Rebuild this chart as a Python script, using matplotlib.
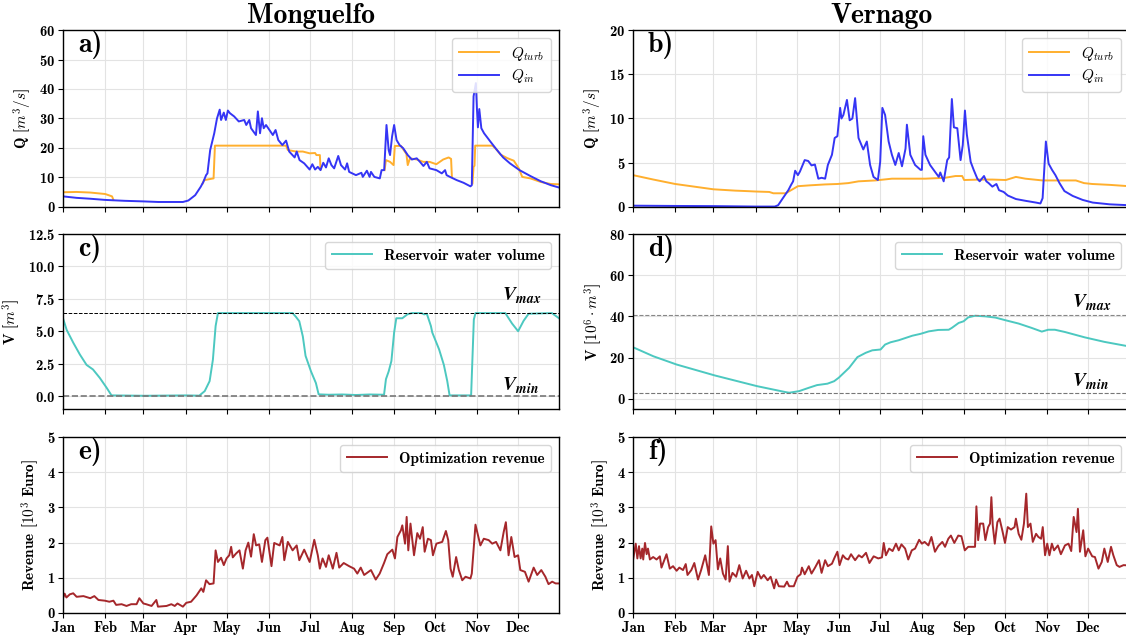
import numpy as np
import matplotlib
matplotlib.use("Agg")
import matplotlib.pyplot as plt

plt.rcParams['font.family'] = 'serif'
plt.rcParams['font.serif'] = ['cmb10', 'DejaVu Serif']
plt.rcParams['mathtext.fontset'] = 'cm'
plt.rcParams['axes.unicode_minus'] = False
plt.rcParams['axes.formatter.use_mathtext'] = True

# ---------------- data (day of year, value) ----------------
months = ['Jan', 'Feb', 'Mar', 'Apr', 'May', 'Jun', 'Jul', 'Aug', 'Sep', 'Oct', 'Nov', 'Dec']
month_start_day = [0, 31, 59, 90, 120, 151, 181, 212, 243, 273, 304, 334]

# Monguelfo inflow
mon_qin = [(0,3.6),(10,3.1),(20,2.8),(31,2.4),(45,2.1),(59,1.9),(70,1.7),(80,1.7),(88,1.7),(92,2.2),(97,4.0),(101,6.8),(103,8.5),(105,10.8),(106,11.4),(108,19.3),(111,25),(113,30),(115,33),(116,29.5),(118,32),(119.5,29.5),(121,32.7),(122.5,31.8),(125.6,30.7),(129,29),(133,29.5),(134.5,27.8),(136.7,29.5),(138,26.7),(141.6,24.4),(143,32.4),(144.6,25),(146,30.1),(147.3,26.7),(149,27.8),(151.5,26.1),(154,24.4),(156,26.1),(158,22.7),(161,21),(163.7,22.5),(166,18.8),(170,16.8),(171.5,18.8),(173.6,15.9),(177,14.8),(181,12.7),(183,14.5),(185,12.7),(187,13.6),(189,12.5),(191,15),(193,13.4),(195,16.5),(197,14.2),(199,13.1),(202,17.3),(204,14.2),(207,12.7),(208.5,14.8),(210,11.9),(215,10.8),(219,11.6),(220,10.2),(223,12.3),(225,10.2),(226,11.9),(228.5,10.2),(232.5,9.7),(233.8,12.5),(235.7,12.5),(237.4,27.8),(239,19.3),(240,17.6),(241.5,23.9),(243,27.8),(244.8,22.7),(247,21),(249.7,19.9),(253,17.6),(256,16.1),(259.6,16.5),(262,15.3),(264.5,13.9),(267,15.3),(269,13.1),(274,12.5),(278,11.4),(280.4,12.5),(281.5,10.8),(284,10.2),(289,9.1),(294,8.2),(299,7),(300,7.4),(301.3,37.5),(303,42),(303.8,33),(304.5,27),(305.5,33.2),(307,26.7),(309,25),(313.6,22.2),(318.5,19.3),(323,16.8),(328,14.8),(335,12.5),(343,10.5),(350.5,8.75),(358,7.4),(364,6.6)]

# Monguelfo turbined flow (None = hidden under inflow, identical to it)
mon_qturb = [(0,5.0),(10,5.1),(20,4.9),(31,4.4),(36,3.6),(37,2.4),None,
             (102.5,8.0),(103.5,9.1),(110.5,9.7),(111.5,20.8),(161,20.8),(163.7,20.8),(165,19.3),(171,18.8),(176,18.8),(181,18.2),(185,18.3),(186,17.6),(188.5,17.6),(189,12.8),None,
             (236,12.5),(237,15.9),(240,15.3),(242.6,14.2),(243.5,20.7),(248,20.7),(252,18),(253,14.2),(254.6,16.5),(259.6,16.1),(264.5,15.3),(269,15.3),(274,14.5),(279,16.1),(283,16.8),(284.8,16.3),(285.4,10.2),None,
             (300.5,8),(301.3,13.6),(302,14),(302.5,20.8),(315.2,20.8),(318.5,19.3),(321,17.8),(325.9,16.6),(330.8,15.7),(334.5,13.1),(337,10.2),(343,9.7),(350.5,8.5),(358,7.8),(364,7.7)]

# Vernago inflow
ver_qin = [(0,0.15),(30,0.12),(60,0.1),(90,0.05),(104,0.05),(106.5,0.2),(110,1.0),(114,1.9),(116,2.5),(117.5,2.9),(119,4.1),(121,3.6),(122.5,4.0),(126,5.3),(128.6,5.2),(131,4.7),(133.5,4.8),(136,3.2),(138.4,3.3),(141,3.2),(143,4.75),(146,5.9),(148,7.8),(150,8.0),(152,11.2),(153,10.0),(154.4,10.4),(157,12.1),(159,9.8),(161,10.0),(163,12.3),(165.5,7.8),(169,6.5),(171.6,7.4),(174,4.75),(176.5,3.4),(179.7,3.05),(181.4,5.1),(183,11.2),(185,10.4),(187.6,7.4),(190,5.9),(192.5,4.75),(195,6.1),(197.4,4.6),(200,6.6),(201,9.3),(203.5,5.9),(207,4.75),(211,4.2),(212,4.2),(213,8.0),(214.6,5.9),(218,4.75),(222,3.9),(224.4,3.4),(225.5,3.9),(228,2.9),(230.6,5.3),(232,5.6),(233,8.9),(234,12.2),(235.5,9.0),(238,8.9),(240.4,5.3),(242,7.0),(243.6,10.9),(245,8.2),(247.8,5.1),(250,4.2),(252.7,3.2),(254.4,2.9),(257.6,3.5),(259.3,2.9),(261,2.7),(263.7,2.3),(266.7,2.6),(268.6,1.9),(272,1.7),(275,1.3),(281,0.9),(288,0.7),(295.7,0.5),(299,0.4),(300.6,1.0),(303,7.4),(305,4.9),(307.5,4.2),(310,3.6),(313,2.7),(316.6,1.8),(322.7,1.25),(330,0.8),(337.4,0.5),(350,0.3),(364,0.2)]

ver_qturb = [(0,3.6),(15,3.1),(31,2.6),(45,2.3),(59,2.0),(75,1.85),(83,1.8),(90,1.75),(100,1.7),(103,1.55),(112,1.55),(116,1.9),(121,2.35),(130,2.45),(141,2.55),(150,2.6),(158,2.7),(165.5,2.9),(177.7,3.0),(190,3.2),(200,3.2),(214.6,3.2),(229,3.3),(236.7,3.5),(241.6,3.5),(243,3.05),(255,3.1),(263.7,3.1),(273.6,3.05),(281,3.4),(288,3.2),(300.6,3.0),(315,3.0),(325,3.0),(331,2.7),(337,2.6),(350,2.5),(364,2.35)]

# Reservoir volumes
mon_vol = [(0,6.0),(2.7,5.1),(7.6,4.1),(12.4,3.2),(17.3,2.4),(22,2.05),(27,1.4),(32,0.64),(35.6,0.05),(60,0.02),(90,0.05),(100,0.03),(104,0.38),(107.6,1.15),(110,2.8),(112,5.4),(113.7,6.4),(168.5,6.4),(171,6.1),(173.4,5.77),(176,4.6),(178,3.1),(182,1.9),(185.6,1.0),(187.6,0.13),(195,0.1),(205,0.12),(215,0.08),(225,0.12),(235.6,0.1),(237,1.3),(239,1.9),(241,2.7),(243,4.9),(244.6,6.0),(249,6.0),(252.7,6.3),(256,6.4),(263,6.4),(265,6.3),(267,6.35),(270,5.4),(271,4.9),(276,3.6),(279.5,2.4),(282,1.15),(283.7,0.05),(299.5,0.05),(301.5,5.9),(302.7,6.4),(324.6,6.4),(329.5,5.6),(334,5.0),(338,5.8),(341.7,6.35),(358.8,6.4),(364,6.0)]
mon_vmax, mon_vmin = 6.4, 0.0

ver_vol = [(0,25),(15,20.6),(32,16.6),(60,11.3),(91,6.1),(112,3.2),(114.7,2.9),(122,3.7),(129,5.3),(135,6.6),(142.7,7.3),(147.6,8.5),(151,10.2),(158.6,15),(164.7,20.2),(170.8,22.3),(175.6,23.5),(181.7,23.9),(185,26.3),(189,27.4),(195,28.4),(200,29.5),(205,30.6),(211,31.5),(217,32.7),(224,33.4),(231.7,33.5),(234,34.4),(239,36.8),(242.6,37.6),(246,39.5),(251,40.3),(258.5,40),(266,39.4),(274,38),(283,36.5),(292.5,34.4),(300,32.6),(304.7,33.5),(309.6,33.5),(317,32.4),(331.5,29.8),(346,27.6),(364,25.4)]
ver_vmax, ver_vmin = 40.5, 3.0

# Revenues
mon_rev = [(0,0.42),(1.2,0.55),(2.5,0.44),(5,0.53),(7.5,0.56),(10,0.46),(15,0.48),(20,0.42),(23,0.48),(26,0.37),(30.7,0.35),(34,0.32),(37,0.35),(39,0.23),(43,0.25),(46.6,0.2),(50,0.25),(54,0.25),(56,0.42),(59,0.27),(61,0.25),(65,0.2),(68.5,0.37),(69.7,0.18),(76,0.2),(79.5,0.25),(82,0.2),(84,0.27),(88,0.18),(90.5,0.29),(94,0.32),(98,0.5),(101.5,0.7),(103,0.6),(105,0.93),(107.5,0.82),(110.5,0.84),(112,1.78),(113.7,1.45),(116,1.57),(118,1.36),(120,1.55),(122,1.64),(123.4,1.88),(124.6,1.58),(127,1.69),(129.5,1.78),(132,1.26),(134,1.78),(136,2.0),(138,1.6),(140,2.24),(141.7,1.92),(144,1.95),(146,1.45),(148.5,2.07),(150,2.14),(153,1.33),(155,1.99),(159,1.92),(161,2.16),(162.4,1.5),(165,2.02),(168.5,1.78),(171.5,1.92),(173.4,1.5),(177,1.8),(181,1.45),(184.4,2.08),(187,1.64),(188.5,1.26),(190.5,1.55),(193,1.31),(195,1.64),(198,1.26),(200.7,1.71),(202.7,1.29),(206,1.42),(210,1.33),(213.6,1.26),(216,1.12),(218.5,1.29),(221,1.08),(226,1.22),(229.5,0.95),(232.4,1.12),(235.6,1.42),(238,1.67),(241.7,1.8),(243.6,1.55),(245.4,2.16),(248,2.35),(249,2.49),(251,1.97),(252.2,2.73),(253.4,1.78),(255,2.54),(257.6,1.64),(260,2.27),(262,2.11),(264,2.44),(265.4,1.74),(267.8,2.11),(270,2.07),(271.5,1.64),(274,1.97),(278.3,2.02),(281,2.33),(282.7,2.07),(284.4,1.26),(286,1.03),(288.5,1.59),(290.5,1.22),(293,0.93),(295.4,1.03),(299,0.98),(300,1.12),(302.7,2.51),(304.6,2.2),(306.3,1.92),(308.8,2.11),(312.4,2.07),(315,1.97),(317.8,2.02),(321,1.78),(323.4,2.3),(325,2.58),(327,1.64),(329,2.16),(331.4,1.59),(334,1.64),(335.6,1.22),(339,1.17),(341.7,0.89),(345.4,1.29),(348,1.08),(351,1.22),(354,1.03),(356.3,0.82),(359,0.89),(361.5,0.84),(364,0.84)]

ver_rev = [(0,1.5),(2,1.97),(3.2,1.55),(4.4,1.9),(5.6,1.55),(6.8,1.83),(7.5,1.52),(8.8,1.99),(10,1.67),(11,1.83),(12.4,1.52),(14.8,1.59),(17.3,1.52),(19.7,1.61),(20.9,1.29),(24.6,1.67),(27,1.26),(29.4,1.33),(32,1.2),(34,1.29),(36.7,1.22),(38.7,1.39),(40,1.08),(42.8,1.22),(45,1.42),(47.7,0.95),(50,1.22),(53,1.64),(55.7,1.08),(57.4,2.46),(59,1.97),(60.6,2.07),(62.3,1.24),(64,1.55),(66,1.12),(68,0.95),(69.6,1.9),(70.8,0.89),(73,1.14),(75.7,1.03),(78,1.36),(80.5,0.98),(83,1.2),(85.4,0.98),(87.3,1.08),(89,0.76),(91.5,1.17),(94,0.98),(96,1.08),(98.8,0.93),(101,1.03),(103.6,0.7),(105,0.95),(107,0.76),(111,0.75),(113,0.89),(114.6,0.76),(118,0.76),(120.7,1.03),(123,1.1),(124,1.29),(126,1.1),(129,1.33),(131,1.12),(133.6,1.29),(136.5,1.5),(138.4,1.14),(141,1.5),(143,1.33),(146,1.4),(148,1.58),(150,1.74),(151.6,1.36),(154,1.64),(156,1.55),(158,1.52),(160,1.67),(163,1.5),(165.7,1.64),(168,1.58),(171,1.71),(173.5,1.42),(176.6,1.61),(180,1.55),(182.7,1.58),(184,1.99),(185.6,1.64),(188,1.83),(190.5,1.76),(193,1.97),(195,1.78),(197,1.95),(199.7,1.83),(202,1.52),(204.6,1.78),(207,1.83),(210,2.08),(212,1.97),(214,2.02),(216.8,1.92),(219,2.16),(221.6,1.74),(224,1.9),(227,2.02),(229,1.88),(231.4,2.11),(233.3,2.2),(235.8,1.99),(238.7,2.2),(241,2.18),(243.5,1.78),(246,1.88),(251,1.88),(252,3.03),(253.3,2.07),(254.7,2.54),(257,2.54),(258.6,2.07),(260.6,2.44),(262,2.54),(263,3.29),(264,2.49),(265.5,1.97),(267.4,2.58),(269,2.68),(271,2.35),(273,1.99),(275,2.44),(277.4,2.37),(280,2.44),(281,2.68),(283,2.25),(285,2.08),(286.9,2.54),(288.6,3.39),(289.8,2.44),(291.7,2.54),(293.4,2.02),(295.8,2.25),(297.5,2.16),(299.5,2.11),(300.7,2.44),(302.4,1.64),(304,1.97),(305.6,1.64),(307.4,1.97),(309,1.78),(311.8,1.92),(314,1.67),(317,1.92),(319.6,1.97),(321.6,1.76),(323.4,2.73),(325.5,2.3),(326.5,2.96),(328,1.74),(330.4,2.35),(332,1.61),(334,1.83),(337,1.61),(339,1.59),(341.6,1.26),(344,1.45),(345.9,1.83),(348.4,1.45),(350.8,1.88),(352.5,1.64),(355,1.36),(357,1.31),(360,1.36),(364,1.35)]


def xy(pairs):
    xs, ys = [], []
    for p in pairs:
        if p is None:
            xs.append(np.nan); ys.append(np.nan)
        else:
            xs.append(p[0]); ys.append(p[1])
    return np.array(xs, float), np.array(ys, float)


C_TURB = '#FFAF2E'
C_IN = '#3535F5'
C_VOL = '#4CC8C0'
C_REV = '#A5272B'

fig = plt.figure(figsize=(11.26, 6.35), dpi=100)
W = 0.4405
lefts = [63 / 1126, 633 / 1126]
rows = [(1 - 207 / 635, 177 / 635), (1 - 409 / 635, 175 / 635), (1 - 613 / 635, 176 / 635)]

axes = [[fig.add_axes([l, b, W, h]) for l in lefts] for (b, h) in rows]

def style(ax, label, show_x):
    ax.set_xlim(0, 364)
    ax.set_xticks(month_start_day)
    if show_x:
        ax.set_xticklabels(months)
    else:
        ax.set_xticklabels([])
    ax.grid(True, color='#e3e3e3', lw=0.8)
    ax.set_axisbelow(True)
    ax.tick_params(labelsize=10.5, length=3.5, width=0.8, pad=2)
    ax.text(0.03, 0.915, label, transform=ax.transAxes, fontsize=20, va='center', ha='left')
    for s in ax.spines.values():
        s.set_linewidth(1.0)

leg_kw = dict(loc='upper right', fontsize=11, frameon=True, fancybox=True, framealpha=0.85,
              edgecolor='#d0d0d0', handlelength=2.6, borderpad=0.45, labelspacing=0.3)

# Q panels
for ax, qt, qi, ylim, lab in [(axes[0][0], mon_qturb, mon_qin, (0, 60), 'a)'),
                              (axes[0][1], ver_qturb, ver_qin, (0, 20), 'b)')]:
    x1, y1 = xy(qt)
    x2, y2 = xy(qi)
    ax.plot(x1, y1, color=C_TURB, lw=1.4, label=r'$Q_{turb}$')
    ax.plot(x2, y2, color=C_IN, lw=1.4, label=r'$Q_{in}$')
    ax.set_ylim(*ylim)
    ax.set_ylabel(r'Q [$m^3/s$]', fontsize=11, labelpad=4)
    style(ax, lab, False)
    ax.legend(**leg_kw)
axes[0][0].set_yticks(np.arange(0, 61, 10))
axes[0][1].set_yticks(np.arange(0, 21, 5))
axes[0][0].set_title('Monguelfo', fontsize=20, pad=5)
axes[0][1].set_title('Vernago', fontsize=20, pad=5)

# Volume panels
ax = axes[1][0]
x, y = xy(mon_vol)
ax.plot(x, y, color=C_VOL, lw=1.4, label='Reservoir water volume')
ax.axhline(mon_vmax, color='k', ls='--', lw=0.7)
ax.axhline(mon_vmin, color='#777777', ls='--', lw=1.2)
ax.set_ylim(-1, 12.5)
ax.set_yticks(np.arange(0, 12.6, 2.5))
ax.set_ylabel(r'V [$m^3$]', fontsize=11, labelpad=4)
ax.text(322, 7.7, r'$\mathbfit{V}_{\mathbfit{max}}$', fontsize=14, va='center')
ax.text(322, 0.75, r'$\mathbfit{V}_{\mathbfit{min}}$', fontsize=14, va='center')
style(ax, 'c)', False)
ax.legend(**leg_kw)

ax = axes[1][1]
x, y = xy(ver_vol)
ax.plot(x, y, color=C_VOL, lw=1.4, label='Reservoir water volume')
ax.axhline(ver_vmax, color='#888888', ls='--', lw=0.8)
ax.axhline(ver_vmin, color='#777777', ls='--', lw=0.8)
ax.set_ylim(-5, 80)
ax.set_yticks(np.arange(0, 81, 20))
ax.set_ylabel(r'V [$10^6 \cdot m^3$]', fontsize=11, labelpad=4)
ax.text(322, 46.6, r'$\mathbfit{V}_{\mathbfit{max}}$', fontsize=14, va='center')
ax.text(322, 8.0, r'$\mathbfit{V}_{\mathbfit{min}}$', fontsize=14, va='center')
style(ax, 'd)', False)
ax.legend(**leg_kw)

# Revenue panels
for ax, rv, lab in [(axes[2][0], mon_rev, 'e)'), (axes[2][1], ver_rev, 'f)')]:
    x, y = xy(rv)
    ax.plot(x, y, color=C_REV, lw=1.4, label='Optimization revenue')
    ax.set_ylim(0, 5)
    ax.set_yticks(np.arange(0, 6, 1))
    ax.set_ylabel(r'Revenue [$10^3$ Euro]', fontsize=11, labelpad=4)
    style(ax, lab, True)
    ax.legend(**leg_kw)

fig.savefig('out.png', dpi=100)
